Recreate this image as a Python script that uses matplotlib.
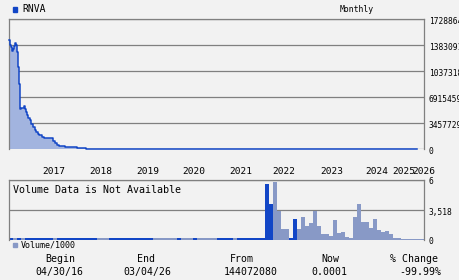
import matplotlib
matplotlib.use("Agg")
import matplotlib.pyplot as plt
import numpy as np
from matplotlib.transforms import ScaledTranslation

# ---------------- data ----------------
ticker = "RNVA"
period_label = "Monthly"

# price series: x in weeks from start, value
price_w = [0, 1.3, 2, 3, 4, 5, 6, 7, 7.7, 8.7, 9.7, 10.7, 11.3, 12.3, 13.7, 15, 16, 17,
           18.3, 19.7, 21, 22.7, 24.3, 26, 27.7, 29.3, 31, 33.7, 36, 43.7, 45, 47, 48.7,
           51, 57, 69.3, 78, 120, 200, 300, 415]
price_v = [14.49e6, 13.82e6, 13.6e6, 13.06e6, 13.24e6, 13.68e6, 14.13e6, 13.82e6, 12.93e6,
           10.92e6, 8.70e6, 6.47e6, 5.27e6, 5.50e6, 5.50e6, 5.67e6, 5.31e6, 4.96e6,
           4.47e6, 4.12e6, 3.80e6, 3.36e6, 2.92e6, 2.56e6, 2.25e6, 2.02e6, 1.80e6,
           1.58e6, 1.49e6, 1.49e6, 1.13e6, 0.82e6, 0.56e6, 0.37e6, 0.29e6, 0.16e6,
           0.03e6, 5000, 200, 1e-4, 1e-4]

# volume per month (/1000)
volume = [230, 230, 230, 230, 230, 230, 230, 230, 230, 230,
          230, 230, 230, 230, 230, 230, 230, 230, 230, 230,
          230, 230, 200, 200, 200, 200, 200, 200, 200, 200,
          200, 200, 200, 200, 200, 200, 200, 200, 200, 200,
          200, 200, 200, 200, 200, 200, 200, 200, 200, 200,
          200, 200, 200, 200, 200, 200, 200, 200, 200, 200,
          200, 200, 200, 200,
          6566, 4200, 6838, 3407, 1278, 1278, 200, 2461, 1278, 2697,
          1597, 1987, 3407, 1597, 650, 650, 414, 2342, 804, 887,
          296, 177, 2697, 4200, 2070, 2070, 1360, 2461, 1160, 887,
          1005, 650, 177, 177, 120, 120, 120, 120, 120, 120]
# B = up month (blue), G = down month (grey)
volume_dir = ("BGBGBBBBBBBGBBBBBBBBBBGGGBBBBBBBBBBBGGGGGGBGGGBGGGGGBBBBGBBBBBBBBB"
              "GGGGBBGGGGGGGGGGGGGGGGGGGGGGGGGGGGGGGG")

year_labels = ["2017", "2018", "2019", "2020", "2021", "2022", "2023", "2024", "2025", "2026"]
year_pos = [46, 93, 141, 188, 236, 279, 328, 374, 401, 422]

price_ticks = [0, 3457729, 6915459, 10373187, 13830916, 17288645]
price_tick_labels = ["0", "3457729", "6915459", "10373187", "13830916", "17288645"]
vol_ticks = [0, 3518, 7036]
vol_tick_labels = ["0", "3,518", "6"]

table_headers = ["Begin", "End", "From", "Now", "% Change"]
table_values = ["04/30/16", "03/04/26", "144072080", "0.0001", "-99.99%"]

# ---------------- style ----------------
BG = "#f2f2f2"
GRID = "#808080"
BLUE = "#1246c6"
FILL = "#a2b4df"
GREYBAR = "#8899c6"
MONO = "DejaVu Sans Mono"

W, H = 460, 280
fig = plt.figure(figsize=(W / 100, H / 100), dpi=100, facecolor=BG)


def fx(x):
    return x / W


def fy(y):
    return 1 - y / H


left, right = 9, 424
ax = fig.add_axes([fx(left), fy(149), (right - left) / W, 130 / H], facecolor=BG)
axv = fig.add_axes([fx(left), fy(240), (right - left) / W, 60 / H], facecolor=BG)

XMAX = 415
# price panel
ax.fill_between(price_w, price_v, 0, step="post", color=FILL, lw=0, zorder=2)
ax.plot(price_w, price_v, drawstyle="steps-post", color=BLUE, lw=1.1, zorder=3, clip_on=False)
ax.set_xlim(0, XMAX)
ax.set_ylim(0, price_ticks[-1])
ax.set_yticks(price_ticks)
ax.set_yticklabels(price_tick_labels)
ax.yaxis.tick_right()
ax.grid(axis="y", color=GRID, lw=0.9, zorder=1)
ax.tick_params(axis="y", length=0, pad=3.4, labelsize=5.7, labelcolor="black")
for lbl in ax.get_yticklabels():
    lbl.set_fontfamily(MONO)
    lbl.set_transform(lbl.get_transform() + ScaledTranslation(0, -0.02, fig.dpi_scale_trans))
ax.set_xticks(year_pos)
ax.set_xticklabels(year_labels)
ax.tick_params(axis="x", length=0, pad=13, labelsize=6.8)
for lbl in ax.get_xticklabels():
    lbl.set_fontfamily(MONO)
for s in ["left", "top", "right"]:
    ax.spines[s].set_color(GRID)
    ax.spines[s].set_linewidth(0.9)
ax.spines["bottom"].set_visible(False)

# volume panel
xs = np.arange(len(volume)) * 4
colors = [BLUE if d == "B" else GREYBAR for d in volume_dir]
axv.bar(xs, volume, width=4, align="edge", color=colors, lw=0, zorder=2)
axv.set_xlim(0, XMAX)
axv.set_ylim(0, vol_ticks[-1])
axv.set_yticks(vol_ticks)
axv.set_yticklabels(vol_tick_labels)
axv.yaxis.tick_right()
axv.grid(axis="y", color=GRID, lw=0.9, zorder=1)
axv.tick_params(axis="y", length=0, pad=3.4, labelsize=5.7)
for lbl in axv.get_yticklabels():
    lbl.set_fontfamily(MONO)
    lbl.set_transform(lbl.get_transform() + ScaledTranslation(0, -0.01, fig.dpi_scale_trans))
axv.set_xticks([])
for s in ["left", "top", "right"]:
    axv.spines[s].set_color(GRID)
    axv.spines[s].set_linewidth(0.9)
axv.spines["bottom"].set_visible(False)
axv.text(0.01, 0.83, "Volume Data is Not Available", transform=axv.transAxes,
         fontsize=7.2, family=MONO, va="center", ha="left")

# header
fig.patches.append(plt.Rectangle((fx(13.3), fy(11.5)), 4 / W, 4.5 / H, color=BLUE,
                                 transform=fig.transFigure))
fig.text(fx(22.5), fy(9), ticker, fontsize=7, family=MONO, va="center", ha="left")
fig.text(fx(357), fy(9.3), period_label, fontsize=5.9, family=MONO, va="center", ha="center")

# volume legend
fig.patches.append(plt.Rectangle((fx(13.3), fy(247.3)), 4 / W, 4 / H, color=GREYBAR,
                                 transform=fig.transFigure))
fig.text(fx(20.5), fy(244.5), "Volume/1000", fontsize=6, family=MONO, va="center", ha="left")

# table
head_x = [60.5, 146, 242, 330, 414]
val_x = [59.5, 147, 251, 329, 420]
for hx, h in zip(head_x, table_headers):
    fig.text(fx(hx), fy(259.5), h, fontsize=7.1, family=MONO, va="center", ha="center")
for vx, v in zip(val_x, table_values):
    fig.text(fx(vx), fy(272.3), v, fontsize=7.1, family=MONO, va="center", ha="center")

fig.savefig("out.png", dpi=100, facecolor=BG)
